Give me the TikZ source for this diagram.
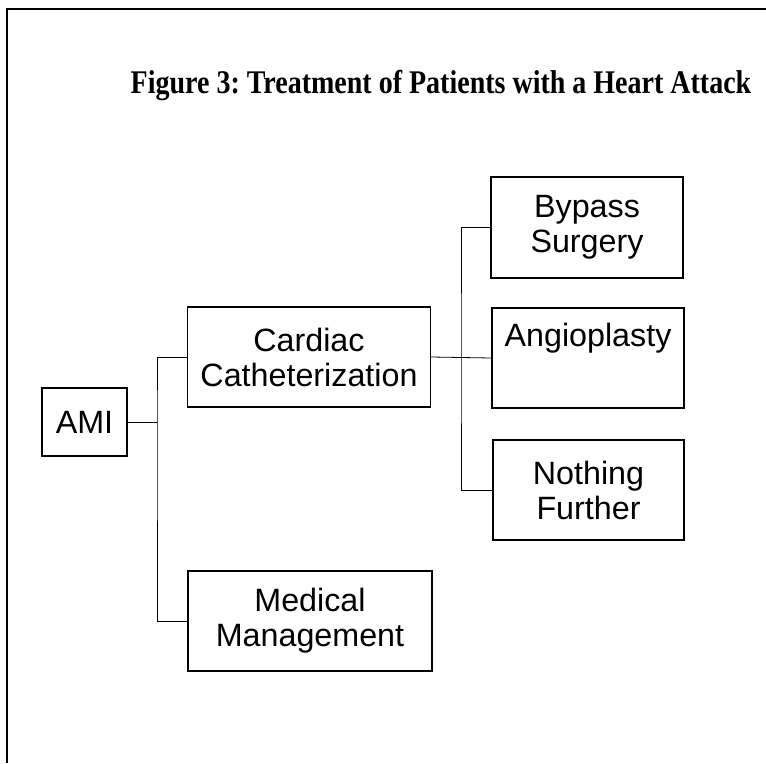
\documentclass[tikz,border=0pt]{standalone}
\usepackage{fontspec}
\setmainfont{Liberation Sans}
\newfontfamily\titlefont{Liberation Serif}
\usepackage{tikz}
\frenchspacing

\begin{document}
\begin{tikzpicture}[x=0.75pt, y=-0.75pt,
        box/.style={draw, line width=0.8pt, rectangle, inner sep=0pt, align=center,
            font=\fontsize{24.2}{26.2}\selectfont},
        link/.style={line width=0.6pt}]
        \useasboundingbox (0, 0) rectangle (766, 763);
        \draw[line width=2.2pt] (7, 763) -- (7, 9) -- (766, 9);

        \node[font=\titlefont\bfseries\fontsize{21}{24}\selectfont] (title) at (441, 86) {\scalebox{1}[1.18]{Figure 3: Treatment of Patients with a Heart Attack}};

        \node[box, minimum width=85*0.75pt, minimum height=68*0.75pt] (ami) at (84.5, 422) {AMI};
        \node[box, minimum width=243*0.75pt, minimum height=100*0.75pt] (cath) at (309, 357) {Cardiac\\Catheterization};
        \node[box, minimum width=244*0.75pt, minimum height=100*0.75pt] (med) at (310, 621) {Medical\\Management};
        \node[box, minimum width=192*0.75pt, minimum height=101*0.75pt] (bypass) at (587, 227.5) {Bypass\\Surgery};
        \node[box, minimum width=192*0.75pt, minimum height=100*0.75pt] (angio) at (588, 358) {Angioplasty\\\strut};
        \node[box, minimum width=191*0.75pt, minimum height=100*0.75pt] (nothing) at (588.5, 490) {Nothing\\Further};

        \coordinate (split1) at (157, 422);
        \coordinate (split2) at (461, 358);

        \draw[link] (ami.east) -- (split1);
        \draw[link] (cath.west) -| (split1) |- (med.west);
        \draw[link] (cath.east) -- (angio.west);
        \draw[link] (bypass.west) -| (split2) |- (nothing.west);
    \end{tikzpicture}
\end{document}
